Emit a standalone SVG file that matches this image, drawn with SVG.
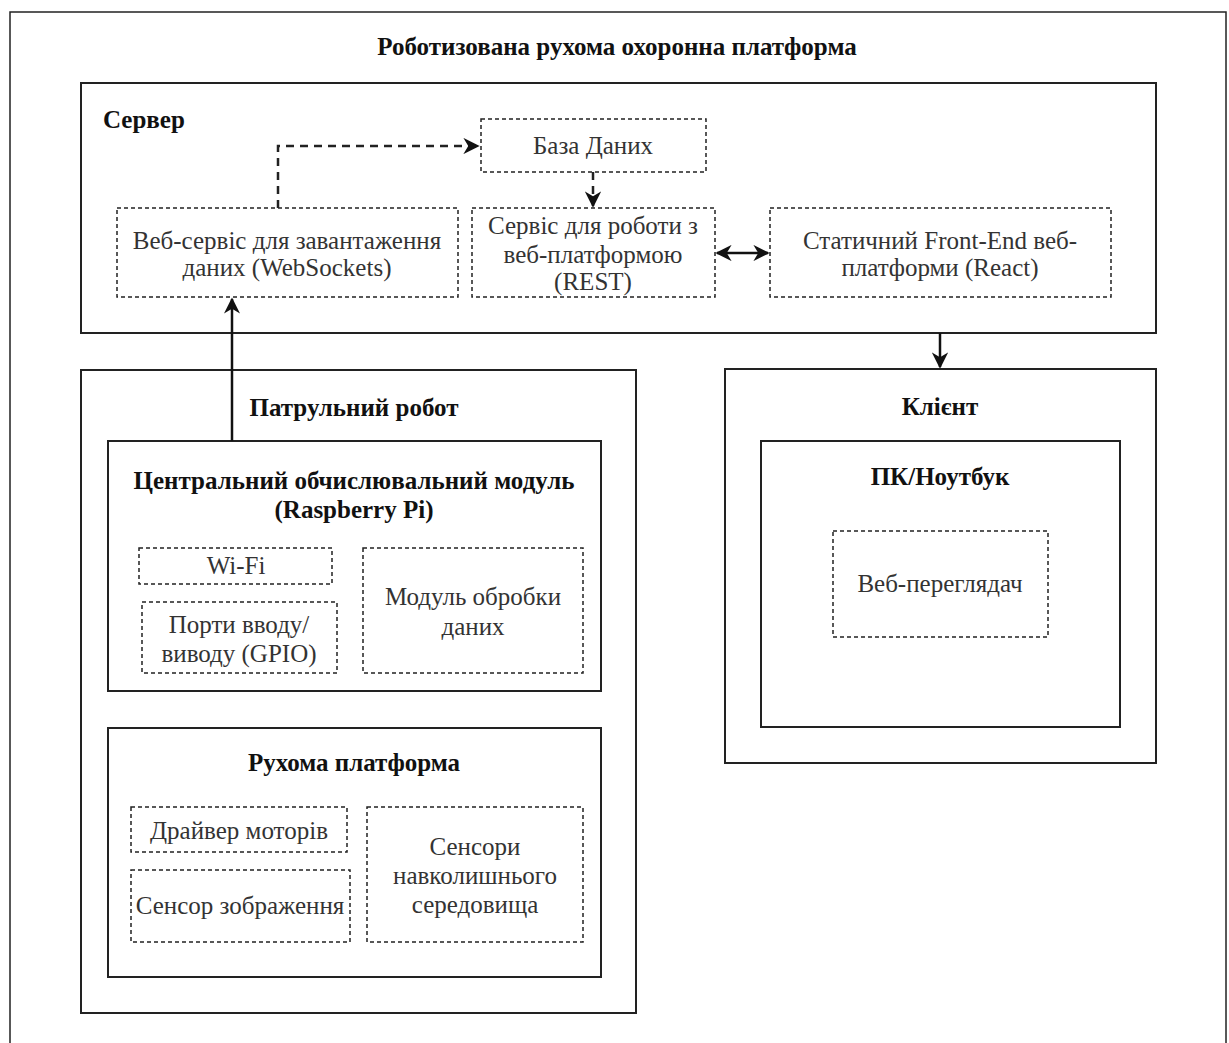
<svg xmlns="http://www.w3.org/2000/svg" width="1229" height="1043" viewBox="0 0 1229 1043">
<style>
.frame{fill:#fff;stroke:#222;stroke-width:1.5}
.solid{fill:#fff;stroke:#222;stroke-width:2}
.dash{fill:#fff;stroke:#222;stroke-width:1.5;stroke-dasharray:4 3}
.t{font-family:"Liberation Serif","Times New Roman",serif;font-size:25px;fill:#333;text-anchor:middle;dominant-baseline:central}
.b{font-family:"Liberation Serif","Times New Roman",serif;font-size:25px;font-weight:bold;fill:#111;text-anchor:middle;dominant-baseline:central}
.c{fill:none;stroke:#111;stroke-width:2.5}
.cd{fill:none;stroke:#222;stroke-width:2.5;stroke-dasharray:8 6}
</style>
<defs>
<marker id="ah" viewBox="0 0 10 10" refX="9" refY="5" markerWidth="6.5" markerHeight="6.5" orient="auto-start-reverse" markerUnits="strokeWidth">
<path d="M0,0 L10,5 L0,10 L3,5 Z" fill="#111"/>
</marker>
</defs>
<rect width="1229" height="1043" fill="#fff"/>
<g id="outer">
<rect class="frame" x="10" y="12" width="1216" height="1040"/>
<text class="b" x="617" y="46">Роботизована рухома охоронна платформа</text>
</g>
<g id="server">
<rect class="solid" x="81" y="83" width="1075" height="250"/>
<text class="b" x="103" y="119" style="text-anchor:start">Сервер</text>
</g>
<g id="websocket">
<rect class="dash" x="117" y="208" width="341" height="89"/>
<text class="t" x="287" y="240">Веб-сервіс для завантаження</text>
<text class="t" x="287" y="267">даних (WebSockets)</text>
</g>
<g id="db">
<rect class="dash" x="481" y="119" width="225" height="53"/>
<text class="t" x="593" y="145">База Даних</text>
</g>
<g id="rest">
<rect class="dash" x="472" y="208" width="243" height="89"/>
<text class="t" x="593" y="225">Сервіс для роботи з</text>
<text class="t" x="593" y="254">веб-платформою</text>
<text class="t" x="593" y="281">(REST)</text>
</g>
<g id="frontend">
<rect class="dash" x="770" y="208" width="341" height="89"/>
<text class="t" x="940" y="240">Статичний Front-End веб-</text>
<text class="t" x="940" y="267">платформи (React)</text>
</g>
<g id="client">
<rect class="solid" x="725" y="369" width="431" height="394"/>
<text class="b" x="940" y="406">Клієнт</text>
</g>
<g id="pc">
<rect class="solid" x="761" y="441" width="359" height="286"/>
<text class="b" x="940" y="476">ПК/Ноутбук</text>
</g>
<g id="browser">
<rect class="dash" x="833" y="531" width="215" height="106"/>
<text class="t" x="940" y="583">Веб-переглядач</text>
</g>
<g id="robot">
<rect class="solid" x="81" y="370" width="555" height="643"/>
<text class="b" x="354" y="407">Патрульний робот</text>
</g>
<g id="cpu">
<rect class="solid" x="108" y="441" width="493" height="250"/>
<text class="b" x="354" y="480">Центральний обчислювальний модуль</text>
<text class="b" x="354" y="509">(Raspberry Pi)</text>
</g>
<g id="wifi">
<rect class="dash" x="139" y="548" width="193" height="36"/>
<text class="t" x="236" y="565">Wi-Fi</text>
</g>
<g id="gpio">
<rect class="dash" x="142" y="602" width="195" height="71"/>
<text class="t" x="239" y="624">Порти вводу/</text>
<text class="t" x="239" y="653">виводу (GPIO)</text>
</g>
<g id="dataproc">
<rect class="dash" x="363" y="548" width="220" height="125"/>
<text class="t" x="473" y="596">Модуль обробки</text>
<text class="t" x="473" y="626">даних</text>
</g>
<g id="platform">
<rect class="solid" x="108" y="728" width="493" height="249"/>
<text class="b" x="354" y="762">Рухома платформа</text>
</g>
<g id="motor">
<rect class="dash" x="131" y="807" width="216" height="45"/>
<text class="t" x="239" y="830">Драйвер моторів</text>
</g>
<g id="camera">
<rect class="dash" x="131" y="870" width="219" height="72"/>
<text class="t" x="240" y="905">Сенсор зображення</text>
</g>
<g id="envsensors">
<rect class="dash" x="367" y="807" width="216" height="135"/>
<text class="t" x="475" y="846">Сенсори</text>
<text class="t" x="475" y="875">навколишнього</text>
<text class="t" x="475" y="904">середовища</text>
</g>
<g id="connectors">
<path class="cd" d="M278,208 V146 H478" marker-end="url(#ah)"/>
<path class="cd" d="M593,172 V206" marker-end="url(#ah)"/>
<path class="c" d="M717,253 H768" marker-start="url(#ah)" marker-end="url(#ah)"/>
<path class="c" d="M940,333 V367" marker-end="url(#ah)"/>
<path class="c" d="M232,441 V299" marker-end="url(#ah)"/>
</g>
</svg>
